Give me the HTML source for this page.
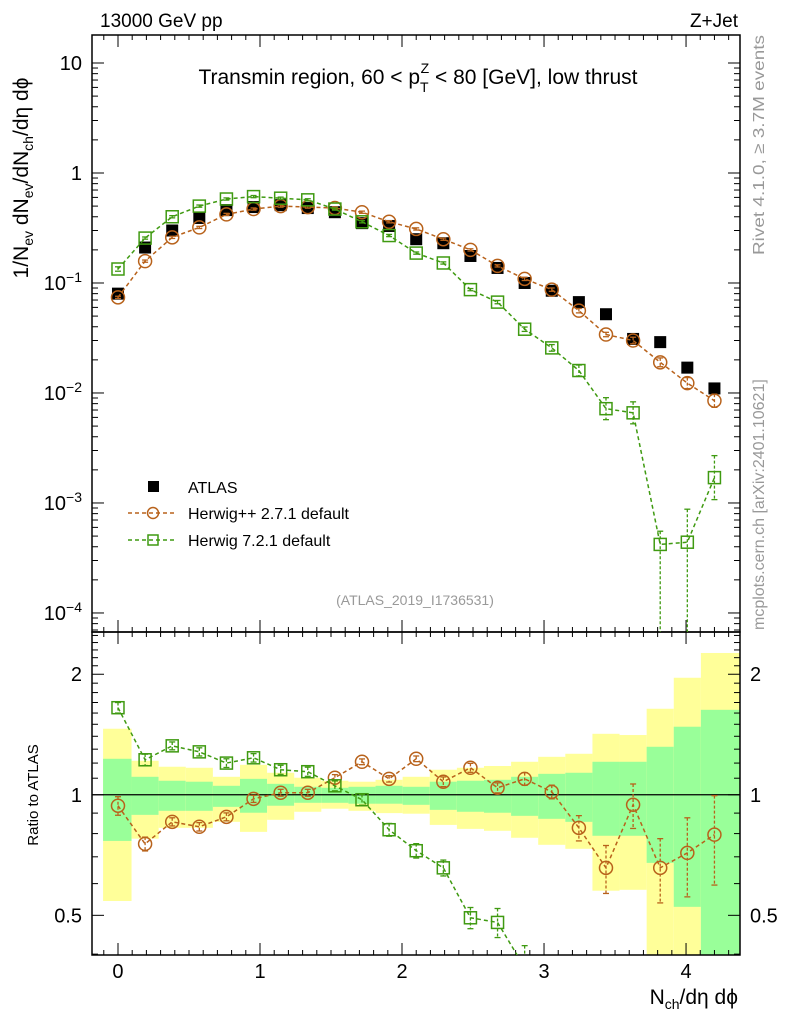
<!DOCTYPE html>
<html><head><meta charset="utf-8"><style>
body{margin:0;background:#fff;overflow:hidden}
svg{display:block;font-family:"Liberation Sans",sans-serif}
</style></head><body>
<svg id="c" width="786" height="1024" viewBox="0 0 786 1024">
<text x="100" y="27" font-size="19">13000 GeV pp</text>
<text x="738" y="27" font-size="19" text-anchor="end">Z+Jet</text>
<text x="418" y="84" font-size="21" text-anchor="middle">Transmin region, 60 &lt; p<tspan font-size="14" dy="8">T</tspan><tspan font-size="14" dx="-8" dy="-19">Z</tspan><tspan dy="11"> &lt; 80 [GeV], low thrust</tspan></text>
<text x="415" y="605" font-size="14" fill="#999" text-anchor="middle">(ATLAS_2019_I1736531)</text>
<text transform="translate(764,255) rotate(-90)" font-size="16" fill="#999" textLength="220" lengthAdjust="spacingAndGlyphs">Rivet 4.1.0, ≥ 3.7M events</text>
<text transform="translate(764,630) rotate(-90)" font-size="16" fill="#999">mcplots.cern.ch [arXiv:2401.10621]</text>
<text transform="translate(28,178) rotate(-90)" font-size="21" text-anchor="middle">1/N<tspan font-size="14" dy="5">ev</tspan><tspan dy="-5"> dN</tspan><tspan font-size="14" dy="5">ev</tspan><tspan dy="-5">/dN</tspan><tspan font-size="14" dy="5">ch</tspan><tspan dy="-5">/dη dϕ</tspan></text>
<text transform="translate(38,795) rotate(-90)" font-size="15" text-anchor="middle">Ratio to ATLAS</text>
<text x="738" y="1004" font-size="21" text-anchor="end">N<tspan font-size="14" dy="5">ch</tspan><tspan dy="-5">/dη dϕ</tspan></text>
<g id="legend">
<g><rect x="148" y="481" width="11" height="11" fill="#000"/><text x="188" y="493" font-size="16">ATLAS</text></g>
<g><line x1="128" y1="513" x2="176" y2="513" stroke="#b8621b" stroke-width="1.5" stroke-dasharray="4,3"/><circle cx="153" cy="513" r="5.5" fill="none" stroke="#b8621b" stroke-width="1.5"/><text x="188" y="519" font-size="16">Herwig++ 2.7.1 default</text></g>
<g><line x1="128" y1="540" x2="176" y2="540" stroke="#3f9a11" stroke-width="1.5" stroke-dasharray="4,3"/><rect x="148" y="535" width="10" height="10" fill="none" stroke="#3f9a11" stroke-width="1.5"/><text x="188" y="546" font-size="16">Herwig 7.2.1 default</text></g>
</g>
</svg>
<script>
const atlas=[0.080,0.21,0.30,0.39,0.46,0.49,0.51,0.48,0.44,0.35,0.33,0.25,0.23,0.176,0.137,0.10,0.085,0.067,0.052,0.031,0.029,0.017,0.011];
const hpp=[0.074,0.158,0.26,0.32,0.42,0.47,0.50,0.49,0.48,0.44,0.36,0.31,0.25,0.20,0.143,0.109,0.087,0.056,0.034,0.030,0.019,0.0123,0.0085];
const h7=[0.134,0.256,0.40,0.50,0.58,0.61,0.59,0.57,0.47,0.36,0.27,0.187,0.152,0.087,0.067,0.038,0.0257,0.016,0.0072,0.0066,0.00042,0.00044,0.0017];
const h7ErrUp=[0.02,0.01,0.01,0.01,0.01,0.01,0.01,0.01,0.01,0.01,0.01,0.01,0.01,0.01,0.015,0.02,0.03,0.05,0.1,0.1,0.12,0.3,0.2];
const h7ErrDn=[0.02,0.01,0.01,0.01,0.01,0.01,0.01,0.01,0.01,0.01,0.01,0.01,0.01,0.01,0.015,0.02,0.03,0.05,0.1,0.1,2,2,0.2];
const hppErrDec=[0.01,0.01,0.01,0.01,0.01,0.01,0.01,0.01,0.01,0.01,0.01,0.01,0.01,0.01,0.01,0.015,0.015,0.02,0.02,0.03,0.04,0.05,0.06];
const rHpp=[0.939,0.754,0.856,0.832,0.881,0.977,1.012,1.012,1.103,1.209,1.096,1.23,1.078,1.168,1.041,1.096,1.017,0.827,0.657,0.944,0.657,0.716,0.795];
const rHppErr=[0.05,0.03,0.02,0.02,0.02,0.02,0.02,0.02,0.02,0.02,0.02,0.02,0.03,0.03,0.03,0.04,0.04,0.06,0.09,0.12,0.12,0.16,0.2];
const rH7=[1.65,1.223,1.325,1.28,1.20,1.237,1.155,1.142,1.053,0.972,0.818,0.725,0.657,0.493,0.48,0.37,0.25,0.2,0.15,0.15,0.02,0.02,0.1];
const rH7Err=[0.05,0.04,0.03,0.03,0.03,0.03,0.03,0.03,0.03,0.03,0.03,0.03,0.03,0.03,0.04,0.05,0.05,0.05,0.05,0.05,0.05,0.05,0.05];
const yelHi=[1.462,1.216,1.175,1.168,1.109,1.188,1.135,1.103,1.084,1.078,1.09,1.109,1.155,1.168,1.18,1.209,1.244,1.266,1.42,1.41,1.64,1.96,2.26];
const yelLo=[0.543,0.777,0.827,0.827,0.856,0.808,0.866,0.907,0.923,0.912,0.9,0.897,0.841,0.822,0.813,0.781,0.75,0.733,0.576,0.579,0.2,0.2,0.2];
const grnHi=[1.23,1.109,1.084,1.078,1.053,1.096,1.065,1.047,1.041,1.047,1.053,1.047,1.078,1.084,1.09,1.109,1.128,1.135,1.209,1.209,1.318,1.479,1.63];
const grnLo=[0.767,0.891,0.912,0.912,0.933,0.902,0.939,0.955,0.955,0.95,0.95,0.944,0.917,0.907,0.902,0.886,0.871,0.856,0.79,0.79,0.676,0.525,0.2];
const xTicks=[0,1,2,3,4];
const yMainTicks=[1,0,-1,-2,-3,-4];
const yRatioTicks=[2,1,0.5];

const NS="http://www.w3.org/2000/svg";
const svg=document.getElementById('c');
const L=92,R=740,T1=35,B1=632,T2=632,B2=955;
const XMIN=-0.183,XMAX=4.38;
const sx=v=>L+(v-XMIN)/(XMAX-XMIN)*(R-L);
const LMAX=1.2545,LMIN=-4.173;
const sy=v=>Math.min(B1+10,T1+(LMAX-Math.log10(v))/(LMAX-LMIN)*(B1-T1));
const R2MAX=Math.log2(2.55),R2MIN=Math.log2(0.398);
const sr=v=>Math.min(B2+30,T2+(R2MAX-Math.log2(v))/(R2MAX-R2MIN)*(B2-T2));
const N=atlas.length, step=4.2/22;
const xs=i=>i*step;
function el(t,a,p){const e=document.createElementNS(NS,t);for(const k in a)e.setAttribute(k,a[k]);(p||svg).appendChild(e);return e;}
const brown="#b8621b",green="#3f9a11";

const defs=el('defs',{});
const c1=el('clipPath',{id:'c1'},defs);el('rect',{x:L,y:T1,width:R-L,height:B1-T1},c1);
const c2=el('clipPath',{id:'c2'},defs);el('rect',{x:L,y:T2,width:R-L,height:B2-T2},c2);
const clampR=v=>Math.min(B2,sr(v));

const gb=el('g',{'clip-path':'url(#c2)'});


for(let i=0;i<N;i++){
  const x0=i===0?-0.105:xs(i)-step/2, x1=i===N-1?XMAX:xs(i)+step/2;
  const y=el('rect',{x:sx(x0),width:sx(x1)-sx(x0),y:sr(yelHi[i]),height:clampR(yelLo[i])-sr(yelHi[i]),fill:'#ffff99'},gb);
  
  
  const g=el('rect',{x:sx(x0),width:sx(x1)-sx(x0),y:sr(grnHi[i]),height:clampR(grnLo[i])-sr(grnHi[i]),fill:'#99ff99'},gb);
  
  
}
const one=el('line',{x1:L,x2:R,y1:sr(1),y2:sr(1),stroke:'#000','stroke-width':1.3});



for(const [t,b,n] of [[T1,B1,'main-frame'],[T2,B2,'ratio-frame']]){
  const f=el('rect',{x:L,y:t,width:R-L,height:b-t,fill:'none',stroke:'#000','stroke-width':1.5});
  
  
}
for(let v=-0.1;v<=4.35;v+=0.1){
  const major=Math.abs(v-Math.round(v))<1e-6;const len=major?12:5;const X=sx(v);
  for(const [t,b] of [[T1,B1],[T2,B2]]){
    el('line',{x1:X,x2:X,y1:b,y2:b-len,stroke:'#000'});
    el('line',{x1:X,x2:X,y1:t,y2:t+len,stroke:'#000'});
  }
}
xTicks.forEach(v=>{const t=el('text',{x:sx(v),y:978,'font-size':20,'text-anchor':'middle'});t.textContent=v;
 
 });
for(let d=-5;d<=1;d++){for(let m=1;m<10;m++){const v=m*Math.pow(10,d);const Y=sy(v);if(Y<T1||Y>B1)continue;const len=m===1?12:6;
 el('line',{x1:L,x2:L+len,y1:Y,y2:Y,stroke:'#000'});el('line',{x1:R,x2:R-len,y1:Y,y2:Y,stroke:'#000'});}}
yMainTicks.forEach(d=>{const t=el('text',{x:82,y:sy(Math.pow(10,d))+7,'font-size':20,'text-anchor':'end'});
 if(d===1)t.textContent='10';else if(d===0)t.textContent='1';else{t.textContent='10';const s=el('tspan',{'font-size':14,dy:-8},t);s.textContent='−'+(-d);}
 
 });
[0.4,0.5,0.6,0.7,0.8,0.9,1,1.1,1.2,1.3,1.4,1.5,1.6,1.7,1.8,1.9,2,2.1,2.2,2.3,2.4,2.5].forEach(v=>{const Y=sr(v);if(Y>B2||Y<T2)return;const len=(v===0.5||v===1||v===2)?12:6;
 el('line',{x1:L,x2:L+len,y1:Y,y2:Y,stroke:'#000'});el('line',{x1:R,x2:R-len,y1:Y,y2:Y,stroke:'#000'});});
yRatioTicks.forEach(v=>{for(const [x,a] of [[82,'end'],[750,'start']]){const t=el('text',{x:x,y:sr(v)+7,'font-size':20,'text-anchor':a});t.textContent=v;
 
 }});

function series(vals,fy,lo,hi,col,shape,clip,name){
  const g=el('g',{'clip-path':clip});
  
  
  el('polyline',{points:vals.map((v,i)=>sx(xs(i))+','+fy(v)).join(' '),fill:'none',stroke:col,'stroke-width':1.5,'stroke-dasharray':'4,3'},g);
  vals.forEach((v,i)=>{const X=sx(xs(i)),Y=fy(v);
    const y1=fy(hi(i)),y2=fy(lo(i));
    el('line',{x1:X,x2:X,y1:y1,y2:y2,stroke:col,'stroke-width':1.3,'stroke-dasharray':'3,2'},g);
    el('line',{x1:X-3,x2:X+3,y1:y1,y2:y1,stroke:col,'stroke-width':1.3},g);
    el('line',{x1:X-3,x2:X+3,y1:y2,y2:y2,stroke:col,'stroke-width':1.3},g);
    const m=shape==='c'?el('circle',{cx:X,cy:Y,r:6.5,fill:'none',stroke:col,'stroke-width':1.5},g):el('rect',{x:X-6,y:Y-6,width:12,height:12,fill:'none',stroke:col,'stroke-width':1.5},g);
    
    
  });
}
const ga=el('g',{'clip-path':'url(#c1)'});


atlas.forEach((v,i)=>{const r=el('rect',{x:sx(xs(i))-6,y:sy(v)-6,width:12,height:12,fill:'#000'},ga);
 
 });
series(hpp,sy,i=>hpp[i]*Math.pow(10,-hppErrDec[i]),i=>hpp[i]*Math.pow(10,hppErrDec[i]),brown,'c','url(#c1)','herwigpp-series');
series(h7,sy,i=>h7[i]*Math.pow(10,-h7ErrDn[i]),i=>h7[i]*Math.pow(10,h7ErrUp[i]),green,'s','url(#c1)','herwig7-series');
series(rHpp,sr,i=>Math.max(0.01,rHpp[i]-rHppErr[i]),i=>rHpp[i]+rHppErr[i],brown,'c','url(#c2)','herwigpp-ratio');
series(rH7,sr,i=>Math.max(0.01,rH7[i]-rH7Err[i]),i=>rH7[i]+rH7Err[i],green,'s','url(#c2)','herwig7-ratio');
</script>
</body></html>
